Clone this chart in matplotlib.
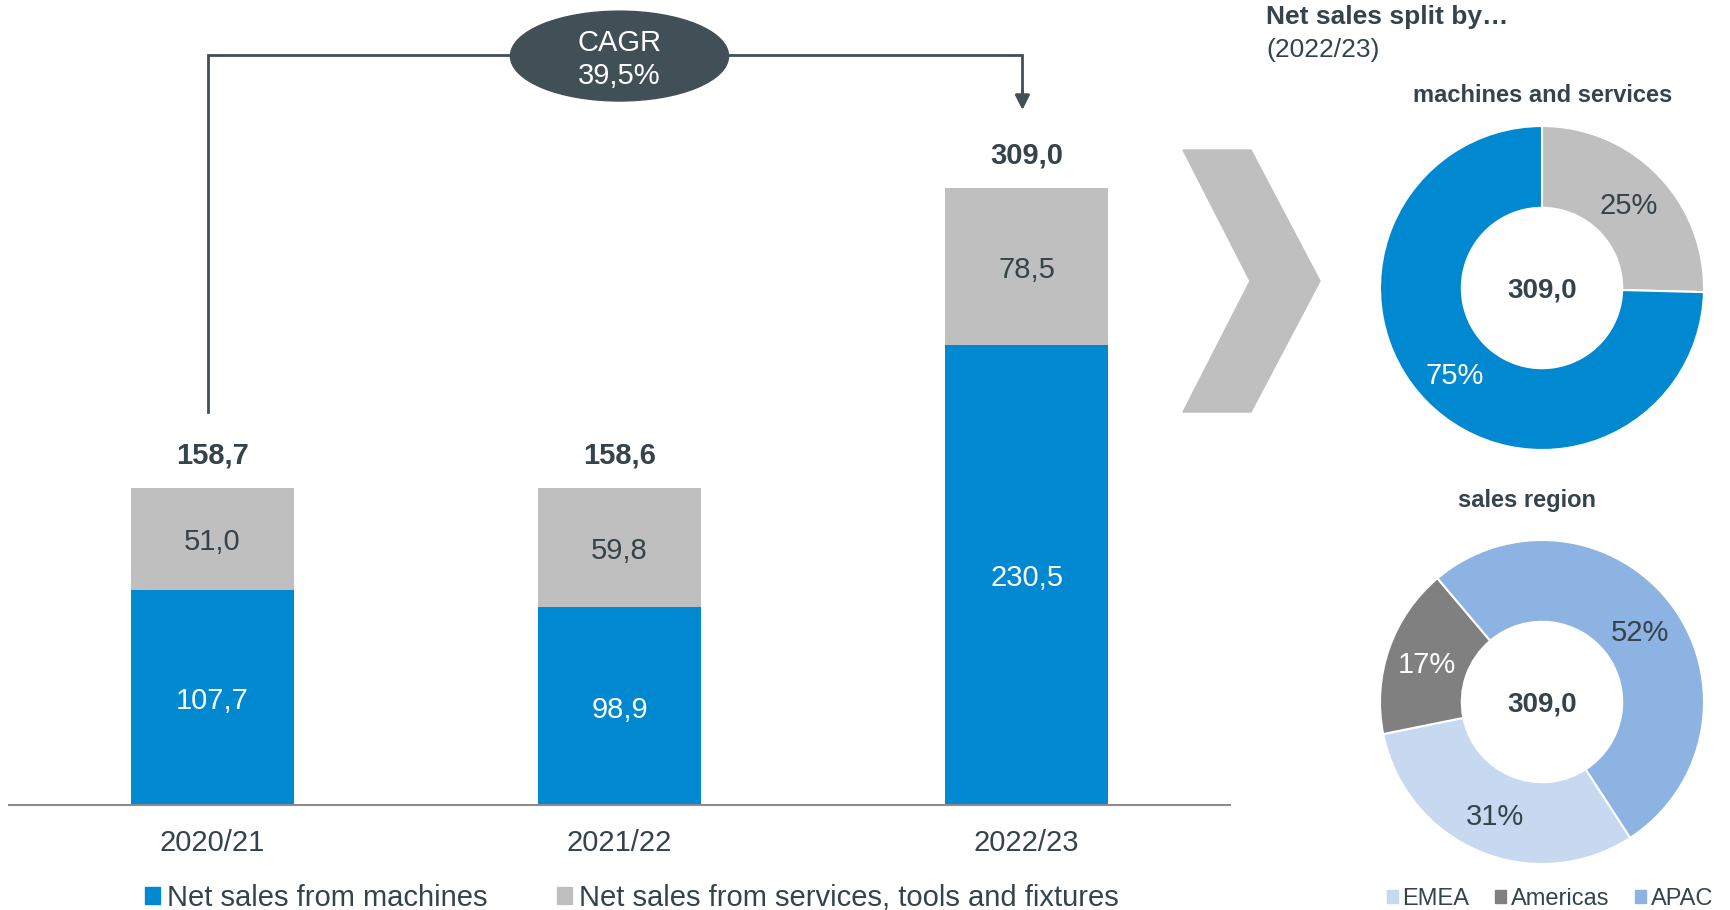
import matplotlib
matplotlib.use("Agg")
import matplotlib.pyplot as plt
from matplotlib.patches import Ellipse, Patch, Polygon

plt.rcParams['font.family'] = ['Liberation Sans', 'DejaVu Sans']

# data
years = ["2020/21", "2021/22", "2022/23"]
machines = [107.7, 98.9, 230.5]
services = [51.0, 59.8, 78.5]
totals = [158.7, 158.6, 309.0]
cagr_label = "CAGR\n39,5%"

split_labels = ["services", "machines"]
split_values = [78.5, 230.5]

regions = ["EMEA", "Americas", "APAC"]
region_pct = [31, 17, 52]

BLUE = "#0089D1"
GREY = "#BFBFBF"
DARK = "#35434B"
ELLIPSE = "#414F56"
REGION_COLORS = ["#C6D9F1", "#808080", "#8DB3E2"]

W, H = 1730, 910
fig = plt.figure(figsize=(W / 100, H / 100), dpi=100)


def box(x0, y0, x1, y1):
    # pixel box (top-left origin) -> figure fraction rect
    return [x0 / W, 1 - y1 / H, (x1 - x0) / W, (y1 - y0) / H]


def fmt(v):
    return f"{v:.1f}".replace(".", ",")


def label(axis, x, y, s, dy=-2.4, **kw):
    axis.annotate(s, (x, y), xytext=(0, dy), textcoords="offset points",
                  ha="center", va="center", annotation_clip=False, **kw)


# ---- stacked bars ----
ax = fig.add_axes(box(9, 100, 1230, 805))
x = list(range(len(years)))
ax.bar(x, machines, width=0.4, color=BLUE)
ax.bar(x, services, width=0.4, bottom=machines, color=GREY)
ax.set_xlim(-0.5, 2.5)
ax.set_ylim(0, 353)

for i in x:
    label(ax, i, machines[i] / 2, fmt(machines[i]), color="white", fontsize=21)
    label(ax, i, machines[i] + services[i] / 2, fmt(services[i]), color=DARK, fontsize=21)
    label(ax, i, totals[i] + 18, fmt(totals[i]), color=DARK, fontsize=21,
          fontweight="bold")

for s in ["top", "left", "right"]:
    ax.spines[s].set_visible(False)
ax.spines["bottom"].set_color("#8C8C8C")
ax.spines["bottom"].set_linewidth(1.5)
ax.set_yticks([])
ax.set_xticks(x)
ax.set_xticklabels(years, fontsize=21, color=DARK)
ax.tick_params(axis="x", length=0, pad=17)

# CAGR bracket
y_top = 375.5
ax.plot([-0.01, -0.01, 1.99, 1.99], [197, y_top, y_top, 356],
        color=ELLIPSE, lw=2, clip_on=False, solid_joinstyle="miter")
ax.annotate("", xy=(1.99, 348), xytext=(1.99, 358),
            arrowprops=dict(arrowstyle="-|>", color=ELLIPSE, lw=2,
                            mutation_scale=22, shrinkA=0, shrinkB=0),
            annotation_clip=False)
ax.add_patch(Ellipse((1.0, 375), 0.536, 45, color=ELLIPSE, clip_on=False, zorder=3))
label(ax, 1.0, 375, cagr_label, color="white", fontsize=21, linespacing=1.25, zorder=4)

# chevron arrow
fig.patches.append(Polygon(
    [(1183 / W, 1 - 150 / H), (1251 / W, 1 - 150 / H), (1320 / W, 1 - 281 / H),
     (1251 / W, 1 - 412 / H), (1183 / W, 1 - 412 / H), (1250 / W, 1 - 281 / H)],
    closed=True, color=GREY, transform=fig.transFigure))

# ---- donut charts ----
fig.text(1266 / W, 1 - 17 / H, "Net sales split by\u2026", fontsize=19,
         fontweight="bold", color=DARK, va="center", ha="left")
fig.text(1266 / W, 1 - 50 / H, "(2022/23)", fontsize=19, color=DARK,
         va="center", ha="left")

R = 162


def donut(cy, values, colors, start, text_colors):
    a = fig.add_axes(box(1542 - R, cy - R, 1542 + R, cy + R))
    _, _, pct = a.pie(values, colors=colors, startangle=start,
                      counterclock=False, radius=1,
                      wedgeprops=dict(width=0.505, edgecolor="white", linewidth=1.5),
                      autopct=lambda p: f"{p:.0f}%", pctdistance=0.75,
                      textprops=dict(fontsize=21))
    for t, c in zip(pct, text_colors):
        t.set_color(c)
        t.set_y(t.get_position()[1] - 0.02)
    label(a, 0, 0, "309,0", dy=-1.5, fontsize=20, fontweight="bold", color=DARK)
    a.set_xlim(-1, 1)
    a.set_ylim(-1, 1)
    return a


donut(288, split_values, [GREY, BLUE], 90, [DARK, "white"])
fig.text(1543 / W, 1 - 96 / H, "machines and services", fontsize=17,
         fontweight="bold", color=DARK, ha="center", va="center")

donut(702, region_pct, REGION_COLORS, -57, [DARK, "white", DARK])
fig.text(1527 / W, 1 - 501 / H, "sales region", fontsize=17,
         fontweight="bold", color=DARK, ha="center", va="center")

# ---- legends ----
leg1 = fig.legend(handles=[Patch(color=BLUE, label="Net sales from machines"),
                           Patch(color=GREY, label="Net sales from services, tools and fixtures")],
                  loc="center", bbox_to_anchor=(632 / W, 1 - 898 / H), ncol=2,
                  frameon=False, fontsize=21, handlelength=0.5, handleheight=0.55,
                  handletextpad=0.25, columnspacing=2.4, borderpad=0)
for t in leg1.get_texts():
    t.set_color(DARK)

leg2 = fig.legend(handles=[Patch(color=c, label=r) for c, r in zip(REGION_COLORS, regions)],
                  loc="center", bbox_to_anchor=(1550 / W, 1 - 899 / H), ncol=3,
                  frameon=False, fontsize=17, handlelength=0.45, handleheight=0.5,
                  handletextpad=0.2, columnspacing=1.1, borderpad=0)
for t in leg2.get_texts():
    t.set_color(DARK)

fig.savefig("out.png", dpi=100, facecolor="white")
